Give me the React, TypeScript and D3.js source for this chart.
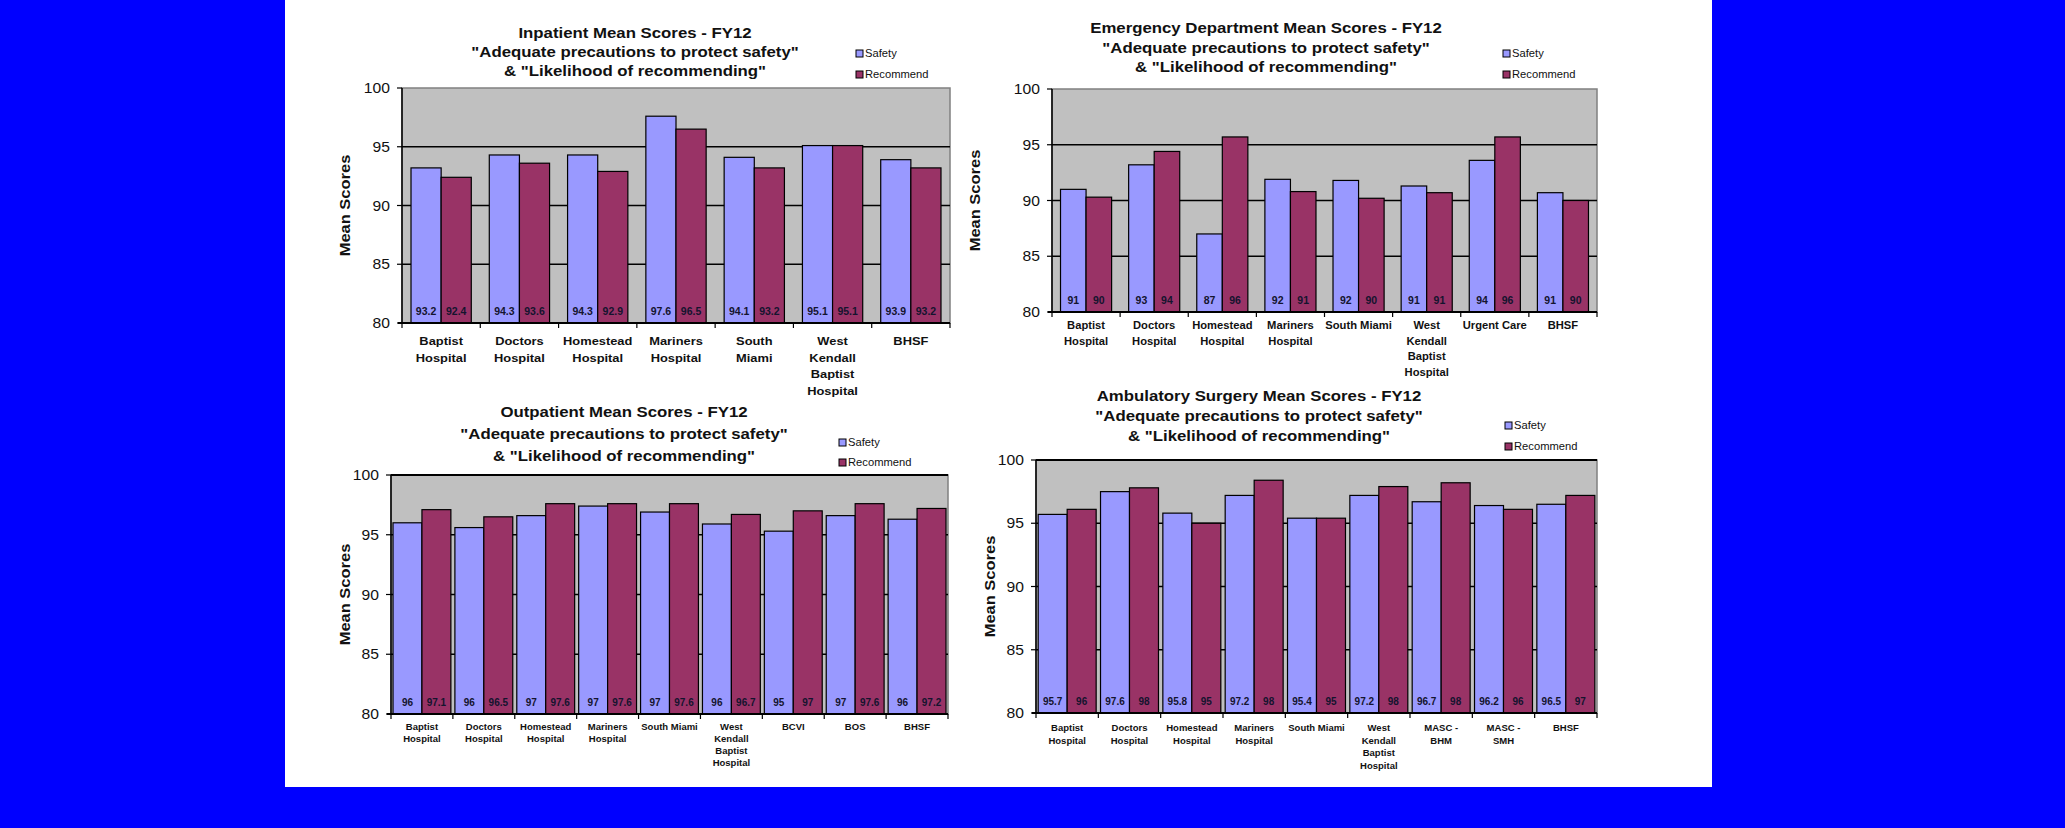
import React from "react";
import * as d3 from "d3";

const SERIES = ["Safety", "Recommend"];
const COLORS = ["#9999FF", "#993366"];
const TITLE_L2 = '"Adequate precautions to protect safety"';
const TITLE_L3 = '& "Likelihood of recommending"';
const Y_TICKS = [80, 85, 90, 95, 100];

// Inpatient
const ipCats = ["Baptist\nHospital", "Doctors\nHospital", "Homestead\nHospital", "Mariners\nHospital", "South\nMiami", "West\nKendall\nBaptist\nHospital", "BHSF"];
const ipSafety = [93.2, 94.3, 94.3, 97.6, 94.1, 95.1, 93.9];
const ipRecommend = [92.4, 93.6, 92.9, 96.5, 93.2, 95.1, 93.2];
const ipSafetyLbl = ["93.2", "94.3", "94.3", "97.6", "94.1", "95.1", "93.9"];
const ipRecommendLbl = ["92.4", "93.6", "92.9", "96.5", "93.2", "95.1", "93.2"];

// Emergency Department
const edCats = ["Baptist\nHospital", "Doctors\nHospital", "Homestead\nHospital", "Mariners\nHospital", "South Miami", "West\nKendall\nBaptist\nHospital", "Urgent Care", "BHSF"];
const edSafety = [91.0, 93.2, 87.0, 91.9, 91.8, 91.3, 93.6, 90.7];
const edRecommend = [90.3, 94.4, 95.7, 90.8, 90.2, 90.7, 95.7, 90.0];
const edSafetyLbl = ["91", "93", "87", "92", "92", "91", "94", "91"];
const edRecommendLbl = ["90", "94", "96", "91", "90", "91", "96", "90"];

// Outpatient
const opCats = ["Baptist\nHospital", "Doctors\nHospital", "Homestead\nHospital", "Mariners\nHospital", "South Miami", "West\nKendall\nBaptist\nHospital", "BCVI", "BOS", "BHSF"];
const opSafety = [96.0, 95.6, 96.6, 97.4, 96.9, 95.9, 95.3, 96.6, 96.3];
const opRecommend = [97.1, 96.5, 97.6, 97.6, 97.6, 96.7, 97.0, 97.6, 97.2];
const opSafetyLbl = ["96", "96", "97", "97", "97", "96", "95", "97", "96"];
const opRecommendLbl = ["97.1", "96.5", "97.6", "97.6", "97.6", "96.7", "97", "97.6", "97.2"];

// Ambulatory Surgery
const asCats = ["Baptist\nHospital", "Doctors\nHospital", "Homestead\nHospital", "Mariners\nHospital", "South Miami", "West\nKendall\nBaptist\nHospital", "MASC -\nBHM", "MASC -\nSMH", "BHSF"];
const asSafety = [95.7, 97.5, 95.8, 97.2, 95.4, 97.2, 96.7, 96.4, 96.5];
const asRecommend = [96.1, 97.8, 95.0, 98.4, 95.4, 97.9, 98.2, 96.1, 97.2];
const asSafetyLbl = ["95.7", "97.6", "95.8", "97.2", "95.4", "97.2", "96.7", "96.2", "96.5"];
const asRecommendLbl = ["96", "98", "95", "98", "95", "98", "98", "96", "97"];

const FONT = "'Liberation Sans', Arial, Helvetica, sans-serif";
const SX = 1.12;

function T({ x, y, size, weight = "normal", anchor = "start", fill = "#000", children, rotate = 0, sx = SX }: any) {
  const tr = rotate ? `translate(${x},${y}) rotate(${rotate}) scale(${sx},1)` : `translate(${x},${y}) scale(${sx},1)`;
  return (
    <text transform={tr} fontSize={size} fontWeight={weight} textAnchor={anchor} fill={fill} fontFamily={FONT}>
      {children}
    </text>
  );
}

function Chart({ cfg }: any) {
  const { x0, x1, y0, y1, cats, vals, lbls, title1, titleX, titleY, legX, legY, pad, grid, topGrid, catSize, valSize, catGap, catLine, yTitleX, tickSize, valOff } = cfg;
  const x = d3.scaleBand<string>().domain(cats).range([x0, x1]).paddingInner(pad).paddingOuter(pad / 2);
  const sub = d3.scaleBand<string>().domain(SERIES).range([0, x.bandwidth()]);
  const y = d3.scaleLinear().domain([80, 100]).range([y1, y0]);
  const step = x.step();
  const boundaries = d3.range(cats.length + 1).map((i) => x0 + i * step);
  return (
    <g>
      {[title1, TITLE_L2, TITLE_L3].map((t, i) => (
        <T key={i} x={titleX} y={titleY[i]} size={15} weight="bold" anchor="middle" fill="#111">{t}</T>
      ))}
      {SERIES.map((s, i) => (
        <g key={s}>
          <rect x={legX} y={legY[i] - 7} width={7} height={7} fill={COLORS[i]} stroke="#000" strokeWidth={1} />
          <T x={legX + 9} y={legY[i]} size={10} fill="#111">{s}</T>
        </g>
      ))}
      <rect x={x0} y={y0} width={x1 - x0} height={y1 - y0} fill="#C0C0C0" stroke="#808080" strokeWidth={1.5} />
      {grid.map((v: number) => (
        <line key={v} x1={x0} x2={x1} y1={y(v)} y2={y(v)} stroke="#000" strokeWidth={1.5} />
      ))}
      {topGrid && <line x1={x0} x2={x1} y1={y(100)} y2={y(100)} stroke="#000" strokeWidth={2} />}
      {cats.map((c: string, ci: number) =>
        SERIES.map((s, si) => {
          const v = vals[si][ci];
          const bx = (x(c) as number) + (sub(s) as number);
          return (
            <g key={c + s}>
              <rect x={bx} y={y(v)} width={sub.bandwidth()} height={y1 - y(v)} fill={COLORS[si]} stroke="#000" strokeWidth={1.2} />
              <T x={bx + sub.bandwidth() / 2} y={y1 - valOff} size={valSize} weight="bold" anchor="middle" fill="#14142e" sx={1.0}>{lbls[si][ci]}</T>
            </g>
          );
        })
      )}
      <line x1={x0} x2={x0} y1={y0} y2={y1} stroke="#000" strokeWidth={1.5} />
      <line x1={x0 - 4} x2={x1} y1={y1} y2={y1} stroke="#000" strokeWidth={2} />
      {Y_TICKS.map((v) => (
        <g key={v}>
          <line x1={x0 - 5} x2={x0} y1={y(v)} y2={y(v)} stroke="#000" strokeWidth={1.2} />
          <T x={x0 - 12} y={y(v) + 5} size={tickSize} anchor="end" fill="#111">{v}</T>
        </g>
      ))}
      {boundaries.map((bx, i) => (
        <line key={i} x1={bx} x2={bx} y1={y1} y2={y1 + 5} stroke="#000" strokeWidth={1.2} />
      ))}
      {cats.map((c: string) =>
        c.split("\n").map((line, li) => (
          <T key={c + li} x={(x(c) as number) + x.bandwidth() / 2} y={y1 + catGap + li * catLine} size={catSize} weight="bold" anchor="middle" fill="#111">{line}</T>
        ))
      )}
      <T x={yTitleX} y={(y0 + y1) / 2} size={15} weight="bold" anchor="middle" rotate={-90} sx={1.1} fill="#111">Mean Scores</T>
    </g>
  );
}

const charts = [
  {
    x0: 402, x1: 950, y0: 88, y1: 323, cats: ipCats, vals: [ipSafety, ipRecommend], lbls: [ipSafetyLbl, ipRecommendLbl],
    title1: "Inpatient Mean Scores - FY12", titleX: 635, titleY: [38, 57, 76], legX: 856, legY: [57, 78], pad: 0.23,
    grid: [85, 90, 95], topGrid: false, catSize: 11.5, valSize: 10.5, valOff: 8, catGap: 22, catLine: 16.5, yTitleX: 350, tickSize: 14,
  },
  {
    x0: 1052, x1: 1597, y0: 89, y1: 312, cats: edCats, vals: [edSafety, edRecommend], lbls: [edSafetyLbl, edRecommendLbl],
    title1: "Emergency Department Mean Scores - FY12", titleX: 1266, titleY: [33, 53, 72], legX: 1503, legY: [57, 78], pad: 0.25,
    grid: [85, 90, 95], topGrid: false, catSize: 10, valSize: 10.5, valOff: 8, catGap: 17, catLine: 15.5, yTitleX: 980, tickSize: 14,
  },
  {
    x0: 391, x1: 948, y0: 475, y1: 714, cats: opCats, vals: [opSafety, opRecommend], lbls: [opSafetyLbl, opRecommendLbl],
    title1: "Outpatient Mean Scores - FY12", titleX: 624, titleY: [417, 439, 461], legX: 839, legY: [446, 466], pad: 0.065,
    grid: [85, 90, 95], topGrid: true, catSize: 8.5, valSize: 10, valOff: 8, catGap: 16, catLine: 12, yTitleX: 350, tickSize: 14,
  },
  {
    x0: 1036, x1: 1597, y0: 460, y1: 713, cats: asCats, vals: [asSafety, asRecommend], lbls: [asSafetyLbl, asRecommendLbl],
    title1: "Ambulatory Surgery Mean Scores - FY12", titleX: 1259, titleY: [401, 421, 441], legX: 1505, legY: [429, 450], pad: 0.07,
    grid: [85, 90, 95], topGrid: true, catSize: 8.5, valSize: 10, valOff: 8, catGap: 18, catLine: 12.5, yTitleX: 995, tickSize: 14,
  },
];

export default function App() {
  return (
    <svg width={2065} height={828} style={{ position: "absolute", left: 0, top: 0, display: "block" }}>
      <rect x={0} y={0} width={2065} height={828} fill="#0000FF" />
      <rect x={285} y={0} width={1427} height={787} fill="#FFFFFF" />
      {charts.map((c, i) => (
        <Chart key={i} cfg={c} />
      ))}
    </svg>
  );
}
